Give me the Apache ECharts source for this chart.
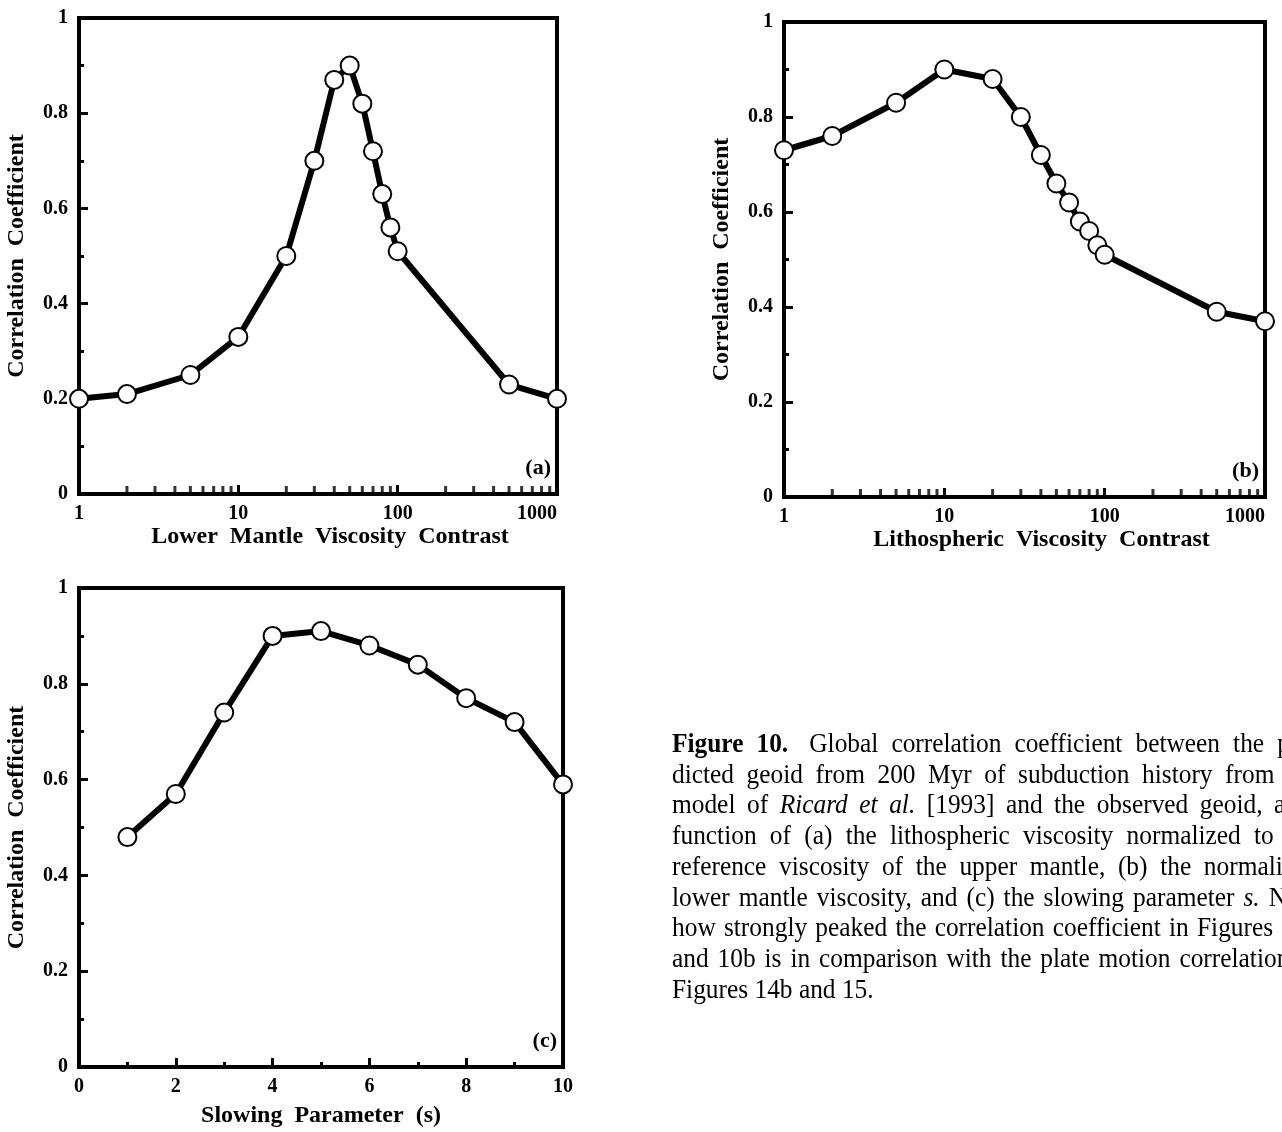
<!DOCTYPE html>
<html>
<head>
<meta charset="utf-8">
<title>Figure 10 - correlation coefficient</title>
<script src="https://cdn.jsdelivr.net/npm/echarts@6/dist/echarts.min.js"></script>
<style>
  html, body { margin: 0; padding: 0; background: #fff; }
  #chart { width: 1282px; height: 1132px; }
</style>
</head>
<body>
<div id="chart"></div>
<script>
// (a) lower mantle viscosity contrast
const lowerMantleX = [1, 2, 5, 10, 20, 30, 40, 50, 60, 70, 80, 90, 100, 500, 1000];
const lowerMantleR = [0.20, 0.21, 0.25, 0.33, 0.50, 0.70, 0.87, 0.90, 0.82, 0.72, 0.63, 0.56, 0.51, 0.23, 0.20];

// (b) lithospheric viscosity contrast
const lithoX = [1, 2, 5, 10, 20, 30, 40, 50, 60, 70, 80, 90, 100, 500, 1000];
const lithoR = [0.73, 0.76, 0.83, 0.90, 0.88, 0.80, 0.72, 0.66, 0.62, 0.58, 0.56, 0.53, 0.51, 0.39, 0.37];

// (c) slowing parameter
const slowingX = [1, 2, 3, 4, 5, 6, 7, 8, 9, 10];
const slowingR = [0.48, 0.57, 0.74, 0.90, 0.91, 0.88, 0.84, 0.77, 0.72, 0.59];

// small ticks between the decades of the log axes
const logMinorTicks = [2, 3, 4, 5, 6, 7, 8, 9, 20, 30, 40, 50, 60, 70, 80, 90, 200, 300, 400, 500, 600, 700, 800, 900];

const panelLetters = ['(a)', '(b)', '(c)'];
const xNames = ['Lower  Mantle  Viscosity  Contrast', 'Lithospheric  Viscosity  Contrast', 'Slowing  Parameter  (s)'];
const yName = 'Correlation  Coefficient';

// caption, one array per printed line; '*' = bold, '_' = italic
const captionLines = [
  ['*Figure', '*10.', 'Global', 'correlation', 'coefficient', 'between', 'the', 'pre-'],
  ['dicted', 'geoid', 'from', '200', 'Myr', 'of', 'subduction', 'history', 'from', 'the'],
  ['model', 'of', '_Ricard', '_et', '_al.', '[1993]', 'and', 'the', 'observed', 'geoid,', 'as', 'a'],
  ['function', 'of', '(a)', 'the', 'lithospheric', 'viscosity', 'normalized', 'to', 'the'],
  ['reference', 'viscosity', 'of', 'the', 'upper', 'mantle,', '(b)', 'the', 'normalized'],
  ['lower', 'mantle', 'viscosity,', 'and', '(c)', 'the', 'slowing', 'parameter', '_s.', 'Note'],
  ['how', 'strongly', 'peaked', 'the', 'correlation', 'coefficient', 'in', 'Figures', '10a'],
  ['and', '10b', 'is', 'in', 'comparison', 'with', 'the', 'plate', 'motion', 'correlation', 'in'],
  ['Figures', '14b', 'and', '15.']
];

const SERIF = '"Liberation Serif", "Times New Roman", serif';
const grids = [
  {left: 79, top: 18, width: 478, height: 476},
  {left: 784, top: 22, width: 481, height: 475},
  {left: 79, top: 588, width: 484, height: 479}
];
const xNameShift = [24, 34, 0];

const chart = echarts.init(document.getElementById('chart'), null, {renderer: 'canvas'});

const tickLabel = {
  color: '#000', fontFamily: SERIF, fontWeight: 'bold', fontSize: 20
};

function nameStyle(shift) {
  return {
    color: '#000', fontFamily: SERIF, fontWeight: 'bold', fontSize: 24,
    padding: [0, 0, 0, shift || 0]
  };
}

function xAxisFor(i) {
  const base = {
    gridIndex: i,
    name: xNames[i],
    nameLocation: 'middle',
    nameGap: i === 2 ? 37 : 30,
    nameTextStyle: nameStyle(xNameShift[i]),
    axisLine: {lineStyle: {color: '#000', width: 4}},
    axisTick: {inside: true, length: 9, lineStyle: {color: '#000', width: 3}},
    axisLabel: Object.assign({margin: 10}, tickLabel),
    splitLine: {show: false}
  };
  if (i < 2) {
    base.axisLabel.formatter = v => String(Math.round(v));
    base.axisLabel.alignMaxLabel = 'right';
    return Object.assign(base, {type: 'log', logBase: 10, min: 1, max: 1000});
  }
  return Object.assign(base, {
    type: 'value', min: 0, max: 10, interval: 2,
    minorTick: {show: true, splitNumber: 2, length: 5, lineStyle: {color: '#000', width: 3}},
    minorSplitLine: {show: false}
  });
}

function yAxisFor(i) {
  return {
    gridIndex: i,
    type: 'value', min: 0, max: 1, interval: 0.2,
    name: yName,
    nameLocation: 'middle',
    nameGap: 50,
    nameTextStyle: nameStyle(0),
    axisLine: {lineStyle: {color: '#000', width: 4}},
    axisTick: {inside: true, length: 9, lineStyle: {color: '#000', width: 3}},
    minorTick: {show: true, splitNumber: 2, length: 5, lineStyle: {color: '#000', width: 3}},
    axisLabel: Object.assign({margin: 11}, tickLabel),
    splitLine: {show: false},
    minorSplitLine: {show: false}
  };
}

function curve(i, xs, ys) {
  return {
    type: 'line',
    xAxisIndex: i,
    yAxisIndex: i,
    data: xs.map((x, k) => [x, ys[k]]),
    symbol: 'circle',
    symbolSize: 18,
    showAllSymbol: true,
    clip: false,
    lineStyle: {color: '#000', width: 6},
    itemStyle: {color: '#fff', borderColor: '#000', borderWidth: 2},
    z: 3
  };
}

function minorTicks(i) {
  return {
    type: 'scatter',
    xAxisIndex: i,
    yAxisIndex: i,
    data: logMinorTicks.map(v => [v, 0]),
    symbol: 'rect',
    symbolSize: [3, 6],
    symbolOffset: [0, -5],
    clip: false,
    itemStyle: {color: '#000'},
    silent: true,
    z: 2
  };
}

// justified caption, one text element per word (slightly condensed face)
const measureCtx = document.createElement('canvas').getContext('2d');
const CAPTION_LEFT = 672;
const CAPTION_TOP = 745;
const CAPTION_LEAD = 30.7;
const CAPTION_WIDTH = 646;
const CAPTION_SIZE = 27;
const CAPTION_SQUEEZE = 0.94;

function captionGraphics() {
  const els = [];
  captionLines.forEach((line, li) => {
    const words = line.map(w => {
      let font = CAPTION_SIZE + 'px ' + SERIF;
      let text = w;
      if (w[0] === '*') { font = 'bold ' + font; text = w.slice(1); }
      if (w[0] === '_') { font = 'italic ' + font; text = w.slice(1); }
      measureCtx.font = font;
      return {text, font, width: measureCtx.measureText(text).width * CAPTION_SQUEEZE};
    });
    measureCtx.font = CAPTION_SIZE + 'px ' + SERIF;
    const space = measureCtx.measureText(' ').width * CAPTION_SQUEEZE;
    const extra = li === 0 ? 8 : 0;
    const total = words.reduce((s, w) => s + w.width, 0);
    const last = li === captionLines.length - 1;
    const gap = last ? space : (CAPTION_WIDTH - total - extra) / (words.length - 1);
    let x = CAPTION_LEFT;
    words.forEach((w, k) => {
      els.push({
        type: 'text',
        x: x,
        y: CAPTION_TOP + li * CAPTION_LEAD,
        scaleX: CAPTION_SQUEEZE,
        silent: true,
        style: {text: w.text, font: w.font, fill: '#000', verticalAlign: 'middle'}
      });
      x += w.width + gap + (li === 0 && k === 1 ? extra : 0);
    });
  });
  return els;
}

const letterGraphics = grids.map((g, i) => ({
  type: 'text',
  x: g.left + g.width - 6,
  y: g.top + g.height - 26,
  silent: true,
  style: {
    text: panelLetters[i],
    font: 'bold 22px ' + SERIF,
    fill: '#000',
    align: 'right',
    verticalAlign: 'middle'
  }
}));

chart.setOption({
  animation: false,
  backgroundColor: '#fff',
  grid: grids.map(g => Object.assign({show: true, borderColor: '#000', borderWidth: 4}, g)),
  xAxis: [0, 1, 2].map(xAxisFor),
  yAxis: [0, 1, 2].map(yAxisFor),
  series: [
    minorTicks(0),
    minorTicks(1),
    curve(0, lowerMantleX, lowerMantleR),
    curve(1, lithoX, lithoR),
    curve(2, slowingX, slowingR)
  ],
  graphic: letterGraphics.concat(captionGraphics())
});

window.addEventListener('resize', () => chart.resize());
</script>
</body>
</html>
